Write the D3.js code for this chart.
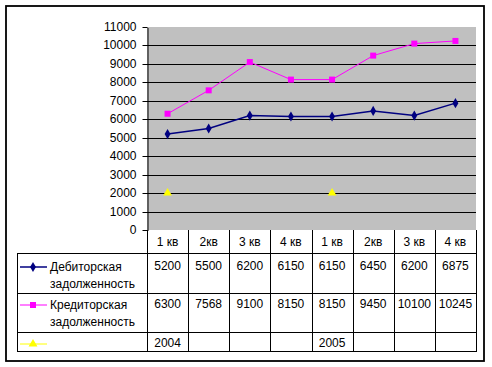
<!DOCTYPE html>
<html>
<head>
<meta charset="utf-8">
<script src="https://cdn.jsdelivr.net/npm/d3@7"></script>
<style>
  body { margin: 0; background: #fff; }
  svg { display: block; font-family: "Liberation Sans", Arial, sans-serif; }
  text { fill: #000; }
</style>
</head>
<body>
<div id="chart"></div>
<script>
// categories and values
const quarters = ["1 кв", "2кв", "3 кв", "4 кв", "1 кв", "2кв", "3 кв", "4 кв"];
const debit = [5200, 5500, 6200, 6150, 6150, 6450, 6200, 6875];
const credit = [6300, 7568, 9100, 8150, 8150, 9450, 10100, 10245];
const years = [2004, null, null, null, 2005, null, null, null];
const yTicks = [0, 1000, 2000, 3000, 4000, 5000, 6000, 7000, 8000, 9000, 10000, 11000];
const seriesNames = [["Дебиторская", "задолженность"], ["Кредиторская", "задолженность"], []];

const W = 492, H = 367;
const plot = { left: 147, right: 476, top: 27, bottom: 230 };
const tableLeft = 17;
const rowEdges = [230, 253, 292.5, 331.5, 350.5];

const svg = d3.select("#chart").append("svg")
  .attr("width", W)
  .attr("height", H);

// outer frame
svg.append("rect")
  .attr("x", 6).attr("y", 6)
  .attr("width", 478).attr("height", 355)
  .attr("fill", "#fff")
  .attr("stroke", "#000")
  .attr("stroke-width", 1.8);

const x = d3.scaleBand()
  .domain(d3.range(quarters.length))
  .range([plot.left, plot.right]);

const y = d3.scaleLinear()
  .domain([0, 11000])
  .range([plot.bottom, plot.top]);

// plot background
svg.append("rect")
  .attr("x", plot.left).attr("y", plot.top)
  .attr("width", plot.right - plot.left)
  .attr("height", plot.bottom - plot.top)
  .attr("fill", "#c0c0c0");

// gridlines
svg.append("g")
  .selectAll("line")
  .data(yTicks.filter(d => d > 0 && d < 11000))
  .join("line")
  .attr("x1", plot.left).attr("x2", plot.right)
  .attr("y1", d => Math.round(y(d)) + 0.5)
  .attr("y2", d => Math.round(y(d)) + 0.5)
  .attr("stroke", "#000");

// y axis
const yAxis = svg.append("g")
  .attr("transform", `translate(${plot.left + 0.5},0.5)`)
  .call(d3.axisLeft(y).tickValues(yTicks).tickFormat(d3.format("d"))
    .tickSize(5).tickPadding(6).tickSizeOuter(0));
yAxis.select(".domain").attr("stroke", "#000");
yAxis.selectAll(".tick line").attr("stroke", "#000");
yAxis.selectAll(".tick text")
  .attr("font-size", 12)
  .attr("font-family", "Liberation Sans, Arial, sans-serif")
  .attr("fill", "#000");
yAxis.selectAll(".tick").attr("transform", d => `translate(0,${Math.round(y(d))})`);

// table grid
const tg = svg.append("g").attr("stroke", "#000").attr("fill", "none");
rowEdges.slice(1).forEach(r => {
  tg.append("line")
    .attr("x1", tableLeft).attr("x2", plot.right)
    .attr("y1", Math.round(r) + 0.5).attr("y2", Math.round(r) + 0.5);
});
tg.append("line")
  .attr("x1", tableLeft + 0.5).attr("x2", tableLeft + 0.5)
  .attr("y1", Math.round(rowEdges[1])).attr("y2", Math.round(rowEdges[4]) + 1);
d3.range(quarters.length + 1).forEach(i => {
  const xx = i < quarters.length ? x(i) : plot.right;
  tg.append("line")
    .attr("x1", Math.round(xx) + 0.5).attr("x2", Math.round(xx) + 0.5)
    .attr("y1", plot.bottom).attr("y2", Math.round(rowEdges[4]) + 1);
});

// header labels
svg.append("g")
  .selectAll("text")
  .data(quarters)
  .join("text")
  .attr("x", (d, i) => x(i) + x.bandwidth() / 2)
  .attr("y", 246)
  .attr("text-anchor", "middle")
  .attr("font-size", 12)
  .text(d => d);

// series definitions
const series = [
  { values: debit, color: "#000080", width: 1.5, marker: d3.symbolDiamond, size: 30, baseline: 269.5 },
  { values: credit, color: "#ff00ff", width: 1, marker: d3.symbolSquare, size: 36, baseline: 307.5 },
  { values: years, color: "#ffff00", width: 1, marker: d3.symbolTriangle, size: 34, baseline: 346.5 }
];
const keyY = [267, 305, 344];

const line = d3.line()
  .defined(d => d != null)
  .x((d, i) => x(i) + x.bandwidth() / 2)
  .y(d => y(d));

series.forEach((s, k) => {
  // lines (third series has gaps, so only markers)
  if (k < 2) {
    svg.append("path")
      .datum(s.values)
      .attr("d", line)
      .attr("fill", "none")
      .attr("stroke", s.color)
      .attr("stroke-width", s.width);
  }
  svg.append("g")
    .selectAll("path")
    .data(s.values.map((v, i) => [v, i]).filter(d => d[0] != null))
    .join("path")
    .attr("transform", d => `translate(${x(d[1]) + x.bandwidth() / 2},${y(d[0])})`)
    .attr("d", d3.symbol().type(s.marker).size(s.size))
    .attr("fill", s.color);

  // table values
  svg.append("g")
    .selectAll("text")
    .data(s.values.map((v, i) => [v, i]).filter(d => d[0] != null))
    .join("text")
    .attr("x", d => x(d[1]) + x.bandwidth() / 2)
    .attr("y", s.baseline)
    .attr("text-anchor", "middle")
    .attr("font-size", 12)
    .text(d => d[0]);

  // legend key
  svg.append("line")
    .attr("x1", 20).attr("x2", 47)
    .attr("y1", keyY[k]).attr("y2", keyY[k])
    .attr("stroke", s.color)
    .attr("stroke-width", s.width);
  svg.append("path")
    .attr("transform", `translate(33,${keyY[k]})`)
    .attr("d", d3.symbol().type(s.marker).size(s.size))
    .attr("fill", s.color);

  // legend name
  seriesNames[k].forEach((t, j) => {
    svg.append("text")
      .attr("x", 50)
      .attr("y", s.baseline + 1 + j * 17.5)
      .attr("font-size", 12)
      .text(t);
  });
});
</script>
</body>
</html>
